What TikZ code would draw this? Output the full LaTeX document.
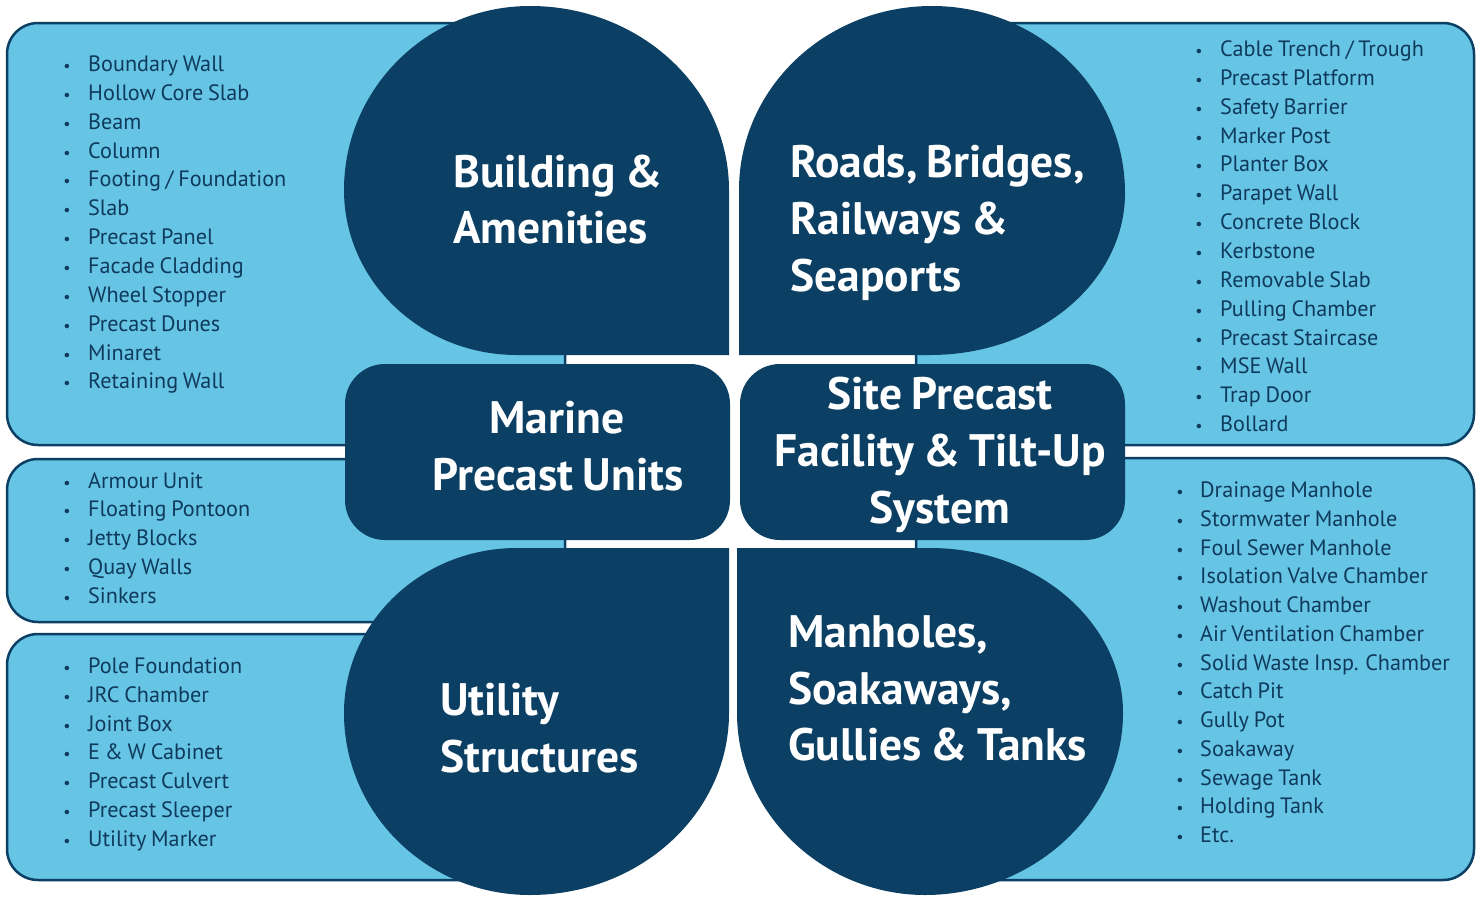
\documentclass[tikz,border=0pt]{standalone}
\usepackage{fontspec}
\setmainfont[WordSpace=0.8]{PT Sans}
\definecolor{navy}{HTML}{0B3F63}
\definecolor{sky}{HTML}{66C4E5}
\definecolor{itemc}{HTML}{0F3A5B}
\begin{document}
\begin{tikzpicture}[x=1pt,y=-1pt,
  listbox/.style={fill=sky, draw=navy, line width=2.5pt, rounded corners=31pt},
  blob/.style={fill=navy},
  cbox/.style={fill=navy, rounded corners=40pt, minimum width=385pt, minimum height=176pt, inner sep=0pt},
  title/.style={text=white, font=\bfseries\fontsize{45.5}{50}\selectfont, inner sep=0pt},
  item/.style={text=itemc, font=\fontsize{22.2}{26}\selectfont, inner sep=0pt, anchor=base west},
  bul/.style={text=itemc, font=\fontsize{16}{20}\selectfont, inner sep=0pt, anchor=base}]
\useasboundingbox (0,0) rectangle (1480,897);
% list boxes
\draw[listbox] (7,23) rectangle (565,445);
\draw[listbox] (916,23) rectangle (1474,445);
\draw[listbox] (7,459) rectangle (565,622);
\draw[listbox] (7,634) rectangle (565,880);
\draw[listbox] (916,458) rectangle (1474,880);
% blobs
\fill[blob] (729,355) -- (517,355) .. controls (421.5,355) and (344,281.1) .. (344,190)
  .. controls (344,88.4) and (427.3,6) .. (530,6)
  .. controls (639.9,6) and (729,88.4) .. (729,190) -- cycle;
\fill[blob] (739,355) -- (739,190) .. controls (739,88.4) and (825.4,6) .. (932,6)
  .. controls (1038.6,6) and (1125,89.7) .. (1125,193)
  .. controls (1125,282.5) and (1037.7,355) .. (930,355) -- cycle;
\fill[blob] (729,548) -- (729,713) .. controls (729,813.5) and (639.9,895) .. (530,895)
  .. controls (427.3,895) and (344,813.5) .. (344,713)
  .. controls (344,621.9) and (421.5,548) .. (517,548) -- cycle;
\fill[blob] (737,548) -- (930,548) .. controls (1036.6,548) and (1123,621.9) .. (1123,713)
  .. controls (1123,813.5) and (1031,895) .. (925,895)
  .. controls (823.4,895) and (737,813.5) .. (737,713) -- cycle;
% centre boxes
\node[cbox] (marine) at (537.5,452) {};
\node[cbox] (site) at (932.5,452) {};
% titles
\node[title, anchor=base west] (bld1) at (453,187) {Building \&};
\node[title, anchor=base west] (bld2) at (453,243) {Amenities};
\node[title, anchor=base west] (rd1) at (790,177) {Roads, Bridges,};
\node[title, anchor=base west] (rd2) at (790,234) {Railways \&};
\node[title, anchor=base west] (rd3) at (790,291) {Seaports};
\node[title, anchor=base] (mr1) at (557,433) {Marine};
\node[title, anchor=base] (mr2) at (558,490) {Precast Units};
\node[title, anchor=base] (st1) at (940,409) {Site Precast};
\node[title, anchor=base] (st2) at (940,466) {Facility \& Tilt-Up};
\node[title, anchor=base] (st3) at (940,523) {System};
\node[title, anchor=base west] (ut1) at (440,715) {Utility};
\node[title, anchor=base west] (ut2) at (440,772) {Structures};
\node[title, anchor=base west] (mh1) at (788,647) {Manholes,};
\node[title, anchor=base west] (mh2) at (788,704) {Soakaways,};
\node[title, anchor=base west] (mh3) at (788,760) {Gullies \& Tanks};
% lists
\foreach \t [count=\i from 0] in {Boundary Wall, Hollow Core Slab, Beam, Column, Footing / Foundation, Slab, Precast Panel, Facade Cladding, Wheel Stopper, Precast Dunes, Minaret, Retaining Wall} {
  \node[item] (tl\i) at (88,71.5+28.85*\i) {\t};
  \node[bul] (tlb\i) at (67,71.5+28.85*\i) {•};
}
\foreach \t [count=\i from 0] in {Armour Unit, Floating Pontoon, Jetty Blocks, Quay Walls, Sinkers} {
  \node[item] (ml\i) at (88,488+28.75*\i) {\t};
  \node[bul] (mlb\i) at (67,488+28.75*\i) {•};
}
\foreach \t [count=\i from 0] in {Pole Foundation, JRC Chamber, Joint Box, E \& W Cabinet, Precast Culvert, Precast Sleeper, Utility Marker} {
  \node[item] (bl\i) at (88,673.5+28.8*\i) {\t};
  \node[bul] (blb\i) at (67,673.5+28.8*\i) {•};
}
\foreach \t [count=\i from 0] in {Cable Trench / Trough, Precast Platform, Safety Barrier, Marker Post, Planter Box, Parapet Wall, Concrete Block, Kerbstone, Removable Slab, Pulling Chamber, Precast Staircase, MSE Wall, Trap Door, Bollard} {
  \node[item] (tr\i) at (1220,56.5+28.85*\i) {\t};
  \node[bul] (trb\i) at (1199,56.5+28.85*\i) {•};
}
\foreach \t [count=\i from 0] in {Drainage Manhole, Stormwater Manhole, Foul Sewer Manhole, Isolation Valve Chamber, Washout Chamber, Air Ventilation Chamber, Solid Waste Insp. Chamber, Catch Pit, Gully Pot, Soakaway, Sewage Tank, Holding Tank, Etc.} {
  \node[item] (br\i) at (1200,497.5+28.75*\i) {\t};
  \node[bul] (brb\i) at (1180,497.5+28.75*\i) {•};
}
\end{tikzpicture}
\end{document}
